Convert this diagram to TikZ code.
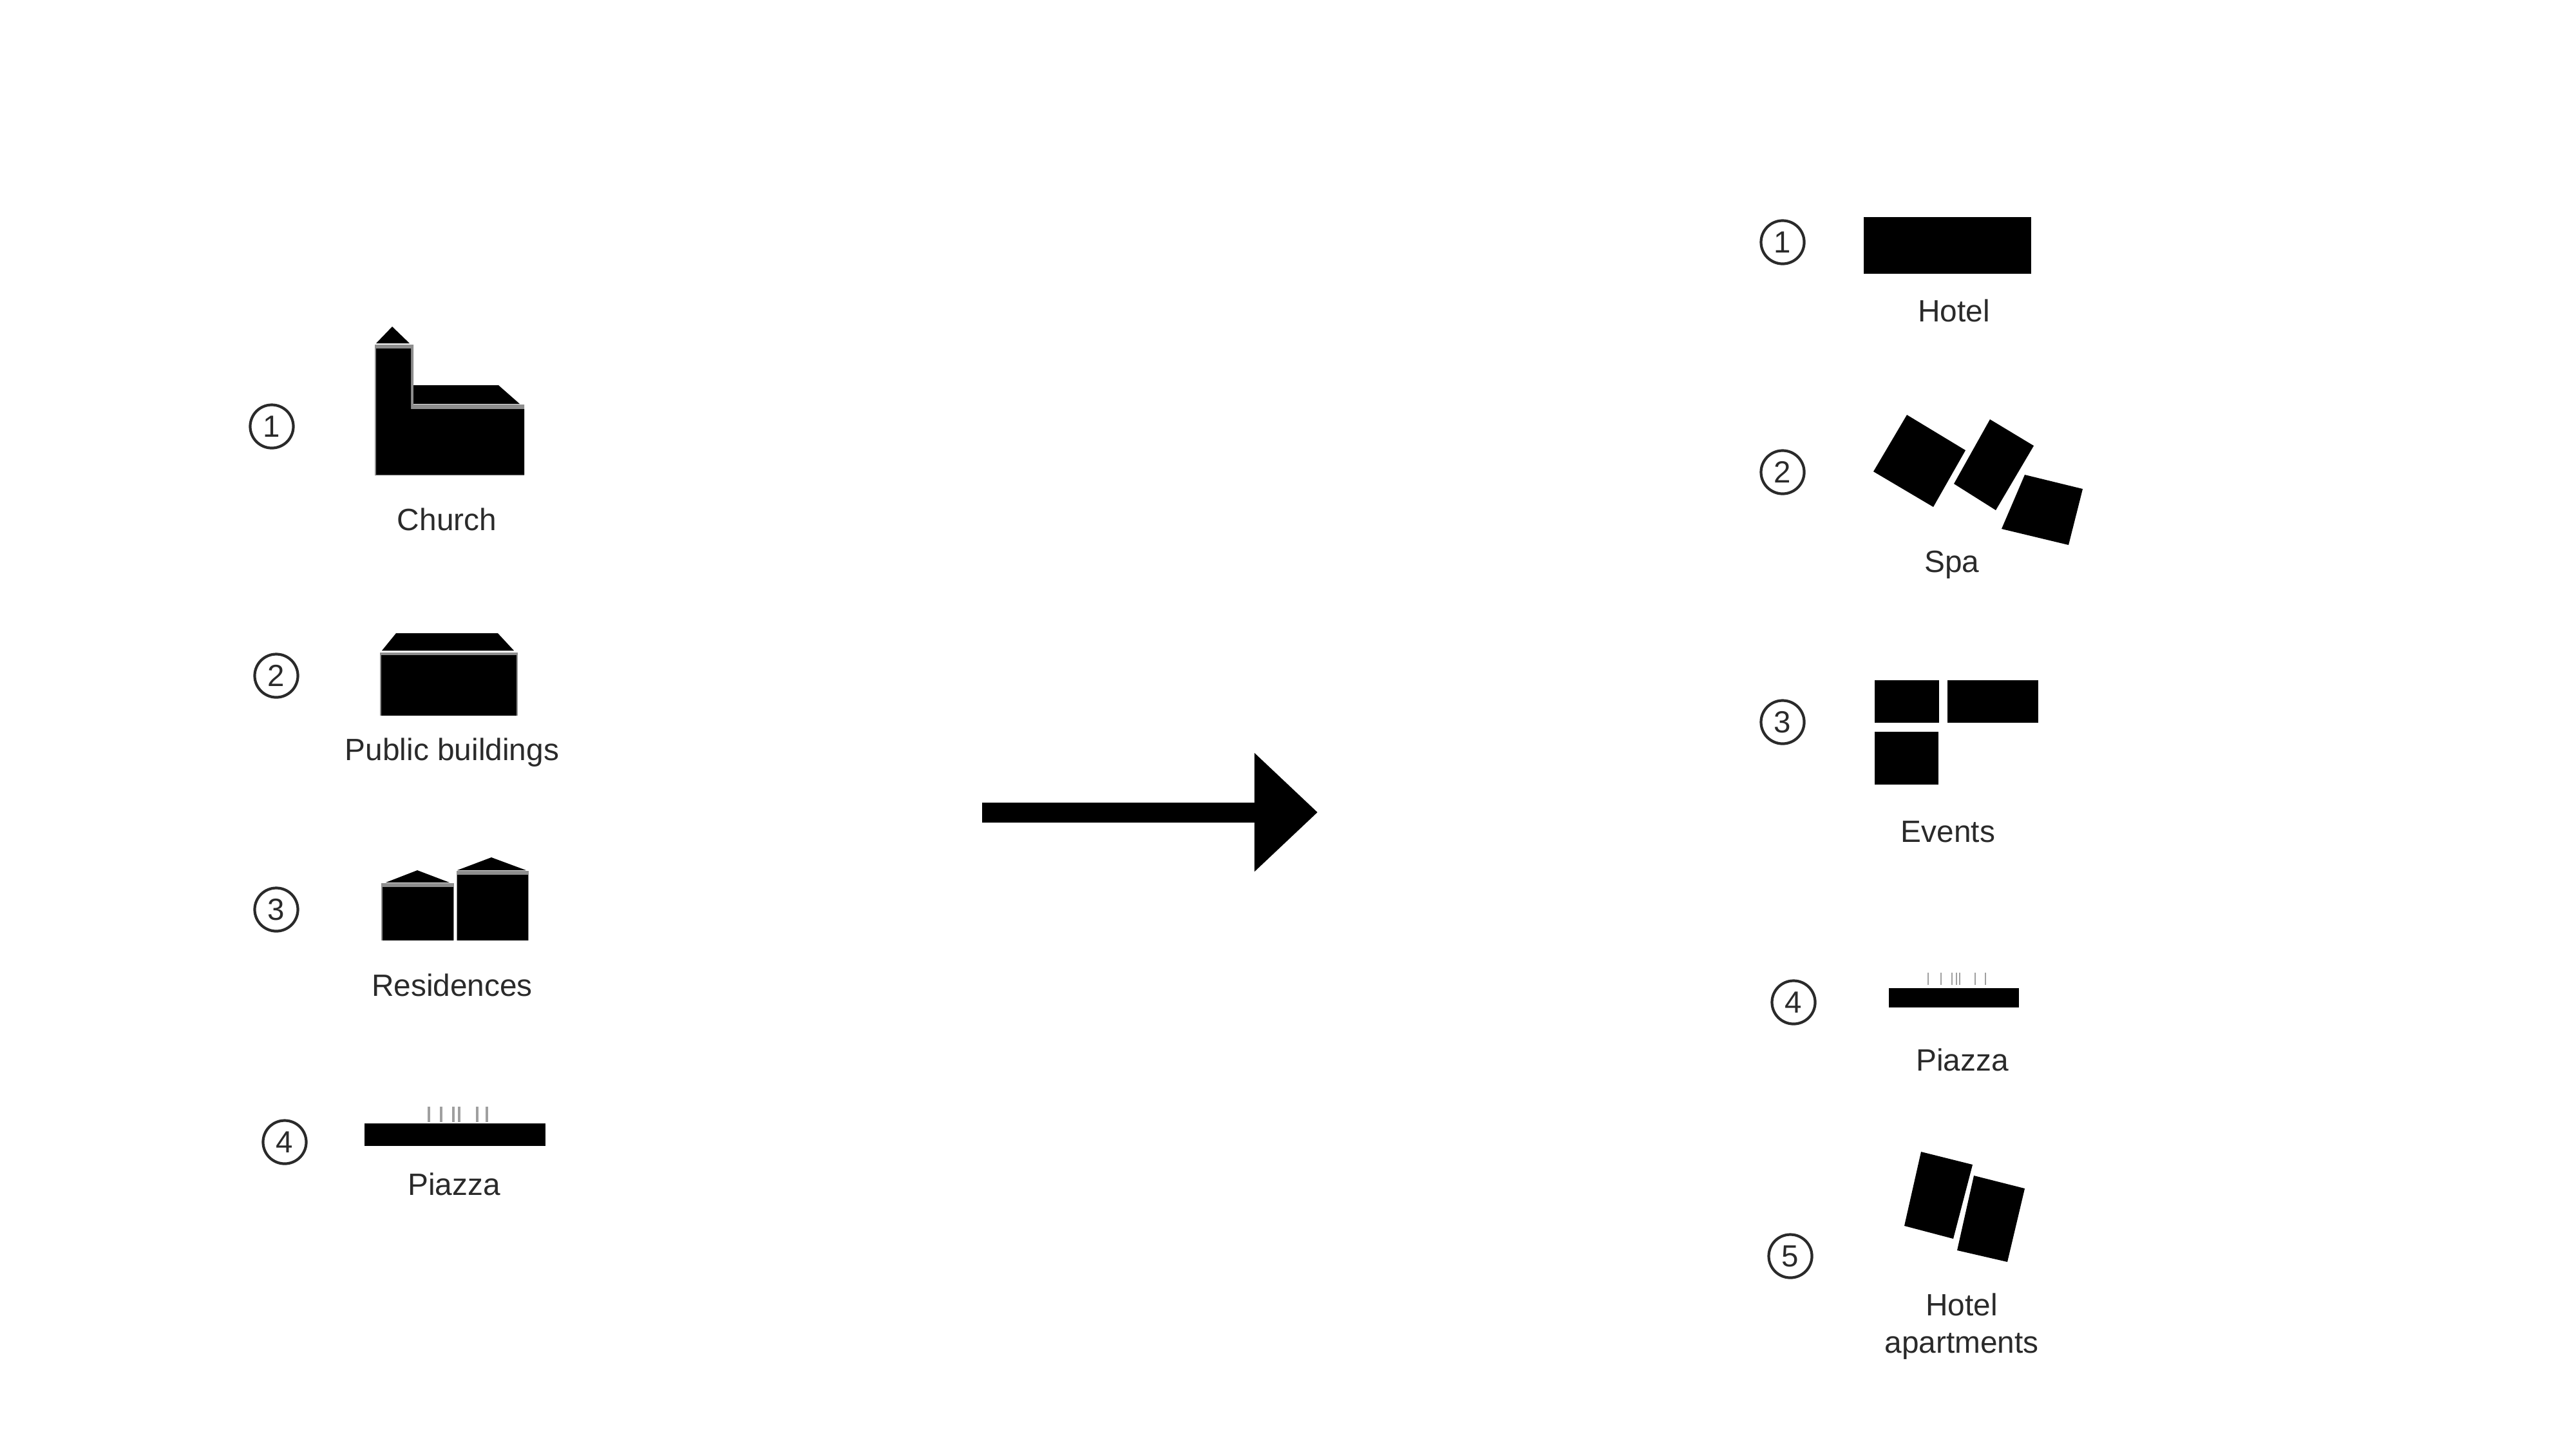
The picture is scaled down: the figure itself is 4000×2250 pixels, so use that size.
\documentclass[tikz,border=0pt]{standalone}
\usepackage{fontspec}
\setmainfont{Liberation Sans}
\usetikzlibrary{arrows.meta}
\definecolor{inkgray}{HTML}{2A2A2A}
\definecolor{edgegray}{HTML}{8E8E8E}
\definecolor{tickgray}{HTML}{A0A0A0}
\tikzset{
  blockfill/.style={fill=black,draw=none},
  edgefill/.style={fill=edgegray,draw=none},
  numcircle/.style={circle,draw=inkgray,line width=0.42mm,minimum size=6.7mm,inner sep=0pt,text=inkgray,font=\fontsize{13.5pt}{15pt}\selectfont},
  caption/.style={anchor=base,inner sep=0pt,text=inkgray,font=\fontsize{13.6pt}{16.2pt}\selectfont},
  tickline/.style={draw=tickgray,line width=0.4mm},
  tickthin/.style={draw=tickgray,line width=0.25mm},
  bigarrow/.style={line width=3.1mm,-{Triangle[length=9.8mm,width=17.8mm]}}
}
\begin{document}
\begin{tikzpicture}[x=0.01cm,y=-0.01cm]
\useasboundingbox[fill=white] (0,0) rectangle (4000,2250);

% Left column: church
\fill[blockfill] (584,533) -- (609,507) -- (636,533) -- cycle;
\fill[edgefill] (582,535) -- (642,535) -- (642,628) -- (814,628) -- (814,738) -- (582,738) -- cycle;
\fill[blockfill] (584,541) -- (638,541) -- (638,635) -- (814,635) -- (814,737) -- (584,737) -- cycle;
\fill[blockfill] (642,598) -- (774,598) -- (807,627) -- (642,627) -- cycle;
\node[numcircle] (l1) at (422,662) {1};
\node[caption] (church) at (694,823) {Church};

% Left column: public buildings
\fill[blockfill] (615,983) -- (773,983) -- (798,1010) -- (593,1010) -- cycle;
\fill[edgefill] (590,1013) rectangle (804,1111);
\fill[blockfill] (592,1017) rectangle (802,1111);
\node[numcircle] (l2) at (429,1049) {2};
\node[caption] (public) at (702,1180) {Public buildings};

% Left column: residences
\fill[blockfill] (599,1370) -- (648,1351) -- (698,1370) -- cycle;
\fill[edgefill] (592,1371) rectangle (705,1460);
\fill[blockfill] (594,1377) rectangle (704,1460);
\fill[blockfill] (710,1351) -- (763,1331) -- (817,1351) -- cycle;
\fill[edgefill] (709,1352) rectangle (821,1460);
\fill[blockfill] (710,1358) rectangle (820,1460);
\node[numcircle] (l3) at (429,1412) {3};
\node[caption] (residences) at (702,1546) {Residences};

% Left column: piazza
\fill[blockfill] (566,1744) rectangle (847,1779);
\foreach \tx in {666,685,704,713,741,756}
  \draw[tickline] (\tx,1718) -- (\tx,1742);
\node[numcircle] (l4) at (442,1773) {4};
\node[caption] (piazzal) at (705,1855) {Piazza};

% Central arrow
\coordinate (arrowstart) at (1525,1261);
\coordinate (arrowtip) at (2046,1261);
\draw[bigarrow] (arrowstart) -- (arrowtip);

% Right column: hotel
\fill[blockfill] (2894,337) rectangle (3154,425);
\node[numcircle] (r1) at (2768,376) {1};
\node[caption] (hotel) at (3034,499) {Hotel};

% Right column: spa
\fill[blockfill] (2961,644) -- (3052,699) -- (3002,787) -- (2909,732) -- cycle;
\fill[blockfill] (3090,651) -- (3158,692) -- (3099,792) -- (3034,751) -- cycle;
\fill[blockfill] (3144,737) -- (3234,759) -- (3212,846) -- (3108,821) -- cycle;
\node[numcircle] (r2) at (2768,733) {2};
\node[caption] (spa) at (3031,888) {Spa};

% Right column: events
\fill[blockfill] (2911,1056) rectangle (3011,1122);
\fill[blockfill] (3024,1056) rectangle (3165,1122);
\fill[blockfill] (2911,1136) rectangle (3010,1218);
\node[numcircle] (r3) at (2768,1121) {3};
\node[caption] (events) at (3025,1307) {Events};

% Right column: piazza
\fill[blockfill] (2933,1534) rectangle (3135,1564);
\foreach \tx in {2994,3014,3031,3038,3043,3067,3083}
  \draw[tickthin] (\tx,1510) -- (\tx,1529);
\node[numcircle] (r4) at (2785,1556) {4};
\node[caption] (piazzar) at (3047,1662) {Piazza};

% Right column: hotel apartments
\fill[blockfill] (2983,1788) -- (3063,1808) -- (3033,1923) -- (2957,1903) -- cycle;
\fill[blockfill] (3065,1825) -- (3144,1845) -- (3117,1959) -- (3039,1941) -- cycle;
\node[numcircle] (r5) at (2780,1950) {5};
\node[caption,anchor=center,align=center] (apts) at (3046,2059) {Hotel\\[0.2pt]apartments};
\end{tikzpicture}
\end{document}
